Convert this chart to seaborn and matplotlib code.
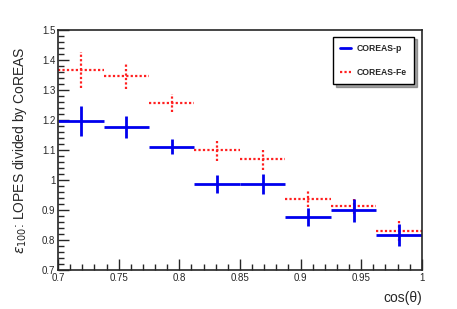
import numpy as np
import seaborn as sns
import matplotlib
matplotlib.use("Agg")
import matplotlib.pyplot as plt
from matplotlib.ticker import MultipleLocator
from matplotlib.lines import Line2D

# bins in cos(theta)
bin_edges = [0.7, 0.7375, 0.775, 0.8125, 0.85, 0.8875, 0.925, 0.9625, 1.0]

# proton ratio and errors
p_vals = [1.197, 1.176, 1.111, 0.986, 0.987, 0.878, 0.899, 0.818]
p_errs = [0.050, 0.037, 0.025, 0.030, 0.032, 0.030, 0.038, 0.037]

# iron ratio and errors
fe_vals = [1.367, 1.346, 1.256, 1.100, 1.070, 0.936, 0.913, 0.831]
fe_errs = [0.059, 0.043, 0.029, 0.035, 0.035, 0.027, 0.025, 0.033]

sns.set_style("ticks")
plt.rcParams['font.family'] = ['Liberation Sans', 'DejaVu Sans']

edges = np.array(bin_edges)
centers = (edges[:-1] + edges[1:]) / 2
halfw = (edges[1:] - edges[:-1]) / 2

fig = plt.figure(figsize=(4.57, 3.09), dpi=100)
ax = fig.add_axes([0.127, 0.126, 0.796, 0.777])

eb = ax.errorbar(centers, fe_vals, xerr=halfw, yerr=fe_errs, fmt='none',
                 ecolor='#ff2020', elinewidth=1.6, capsize=0)
for c in eb[2]:
    c.set_linestyle((0, (1, 1)))
ax.errorbar(centers, p_vals, xerr=halfw, yerr=p_errs, fmt='none',
            ecolor='#0000ee', elinewidth=2.0, capsize=0)

ax.set_xlim(0.7, 1.0)
ax.set_ylim(0.7, 1.5)
ax.xaxis.set_minor_locator(MultipleLocator(0.01))
ax.yaxis.set_minor_locator(MultipleLocator(0.02))
ax.set_xticks([0.7, 0.75, 0.8, 0.85, 0.9, 0.95, 1.0])
ax.set_xticklabels(['0.7', '0.75', '0.8', '0.85', '0.9', '0.95', '1'])
ax.set_yticks([0.7, 0.8, 0.9, 1.0, 1.1, 1.2, 1.3, 1.4, 1.5])
ax.set_yticklabels(['0.7', '0.8', '0.9', '1', '1.1', '1.2', '1.3', '1.4', '1.5'])
ax.tick_params(which='major', direction='in', length=8, width=1, labelsize=7, pad=2)
ax.tick_params(which='minor', direction='in', length=4, width=1)
for s in ax.spines.values():
    s.set_linewidth(1.2)

ax.set_xlabel('cos(θ)', fontsize=10, loc='right', labelpad=6)
ax.set_ylabel(r'$\epsilon_{100}$: LOPES divided by CoREAS', fontsize=10, labelpad=9)

h = [Line2D([], [], color='#0000ee', lw=2),
     Line2D([], [], color='#ff2020', lw=1.6, ls=(0, (1, 1)))]
leg = ax.legend(h, ['COREAS-p', 'COREAS-Fe'], loc='upper right',
                bbox_to_anchor=(0.99, 0.99), fancybox=False, shadow=True,
                framealpha=1, edgecolor='black', prop={'size': 6.2, 'weight': 'bold'},
                handlelength=1.3, labelspacing=1.8, borderpad=0.8, handletextpad=0.7)
leg.get_frame().set_linewidth(1)

fig.savefig('out.png', dpi=100)
